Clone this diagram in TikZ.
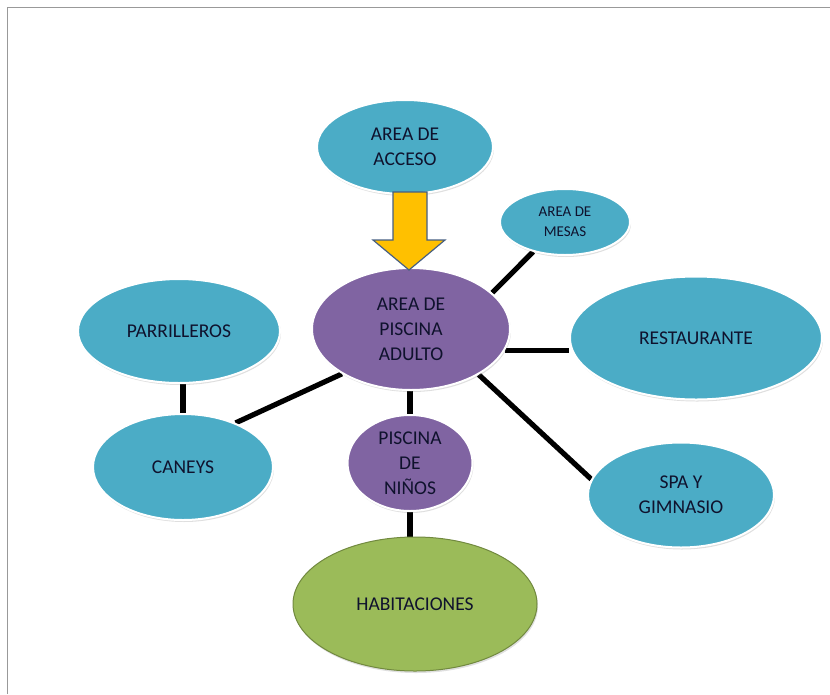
\documentclass[tikz,border=0pt]{standalone}
\usepackage{fontspec}
\setmainfont{Carlito}
\usetikzlibrary{shapes.geometric,shadows,backgrounds}
\definecolor{bluefill}{RGB}{75,172,198}
\definecolor{purplefill}{RGB}{128,100,162}
\definecolor{greenfill}{RGB}{155,187,89}
\definecolor{greenedge}{RGB}{113,137,63}
\definecolor{arrowfill}{RGB}{255,192,0}
\definecolor{arrowedge}{RGB}{70,95,130}
\definecolor{txt}{RGB}{15,18,45}
\tikzset{
  bubble/.style={ellipse, inner sep=0pt, align=center, text=txt,
    draw=white, line width=2pt, font=\fontsize{19.5}{25}\selectfont,
    drop shadow={opacity=0.25, shadow xshift=1pt, shadow yshift=-2pt}},
  bluebubble/.style={bubble, fill=bluefill},
  purplebubble/.style={bubble, fill=purplefill},
  greenbubble/.style={bubble, fill=greenfill, draw=greenedge, line width=1pt},
  link/.style={line width=5.2pt, black},
  framestyle/.style={line width=1pt, gray!80}
}
\begin{document}
\begin{tikzpicture}[x=1pt,y=-1pt]
\useasboundingbox (0,0) rectangle (830,694);
\draw[framestyle] (7,694) -- (7,7) -- (830,7);

\node[bluebubble, minimum width=176pt, minimum height=94pt] (acceso) at (405,147) {AREA DE\\ACCESO};
\node[purplebubble, minimum width=198pt, minimum height=122pt] (adulto) at (411,329) {AREA DE\\PISCINA\\ADULTO};
\node[bluebubble, minimum width=130pt, minimum height=66pt, font=\fontsize{15}{20}\selectfont] (mesas) at (565,222) {AREA DE\\MESAS};
\node[bluebubble, minimum width=252pt, minimum height=123pt] (rest) at (696,338) {RESTAURANTE};
\node[bluebubble, minimum width=186pt, minimum height=105pt] (spa) at (681,495) {SPA Y\\GIMNASIO};
\node[purplebubble, minimum width=125pt, minimum height=96pt] (ninos) at (410,463) {PISCINA\\DE\\NIÑOS};
\node[greenbubble, minimum width=244pt, minimum height=134pt] (hab) at (415,604) {HABITACIONES};
\node[bluebubble, minimum width=202pt, minimum height=104pt] (parr) at (179,331) {PARRILLEROS};
\node[bluebubble, minimum width=180pt, minimum height=106pt] (caneys) at (183,467) {CANEYS};

\begin{scope}[on background layer]
\draw[link] (adulto.24) -- (mesas.223);
\draw[link] (adulto.-13) -- (adulto.-13 -| rest.west);
\draw[link] (adulto.-34) -- (spa.170);
\draw[link] (ninos.north |- adulto.south) -- (ninos.north);
\draw[link] (ninos.south) -- (ninos.south |- hab.north);
\draw[link] (adulto.213) -- (caneys.40);
\draw[link] (caneys.north |- parr.south) -- (caneys.north);
\end{scope}

\draw[fill=arrowfill, draw=arrowedge, line width=1.2pt, line join=miter]
  (393,192) -- (427,192) -- (427,240) -- (445,240) -- (409,270)
  -- (373,240) -- (393,240) -- cycle;
\end{tikzpicture}
\end{document}
